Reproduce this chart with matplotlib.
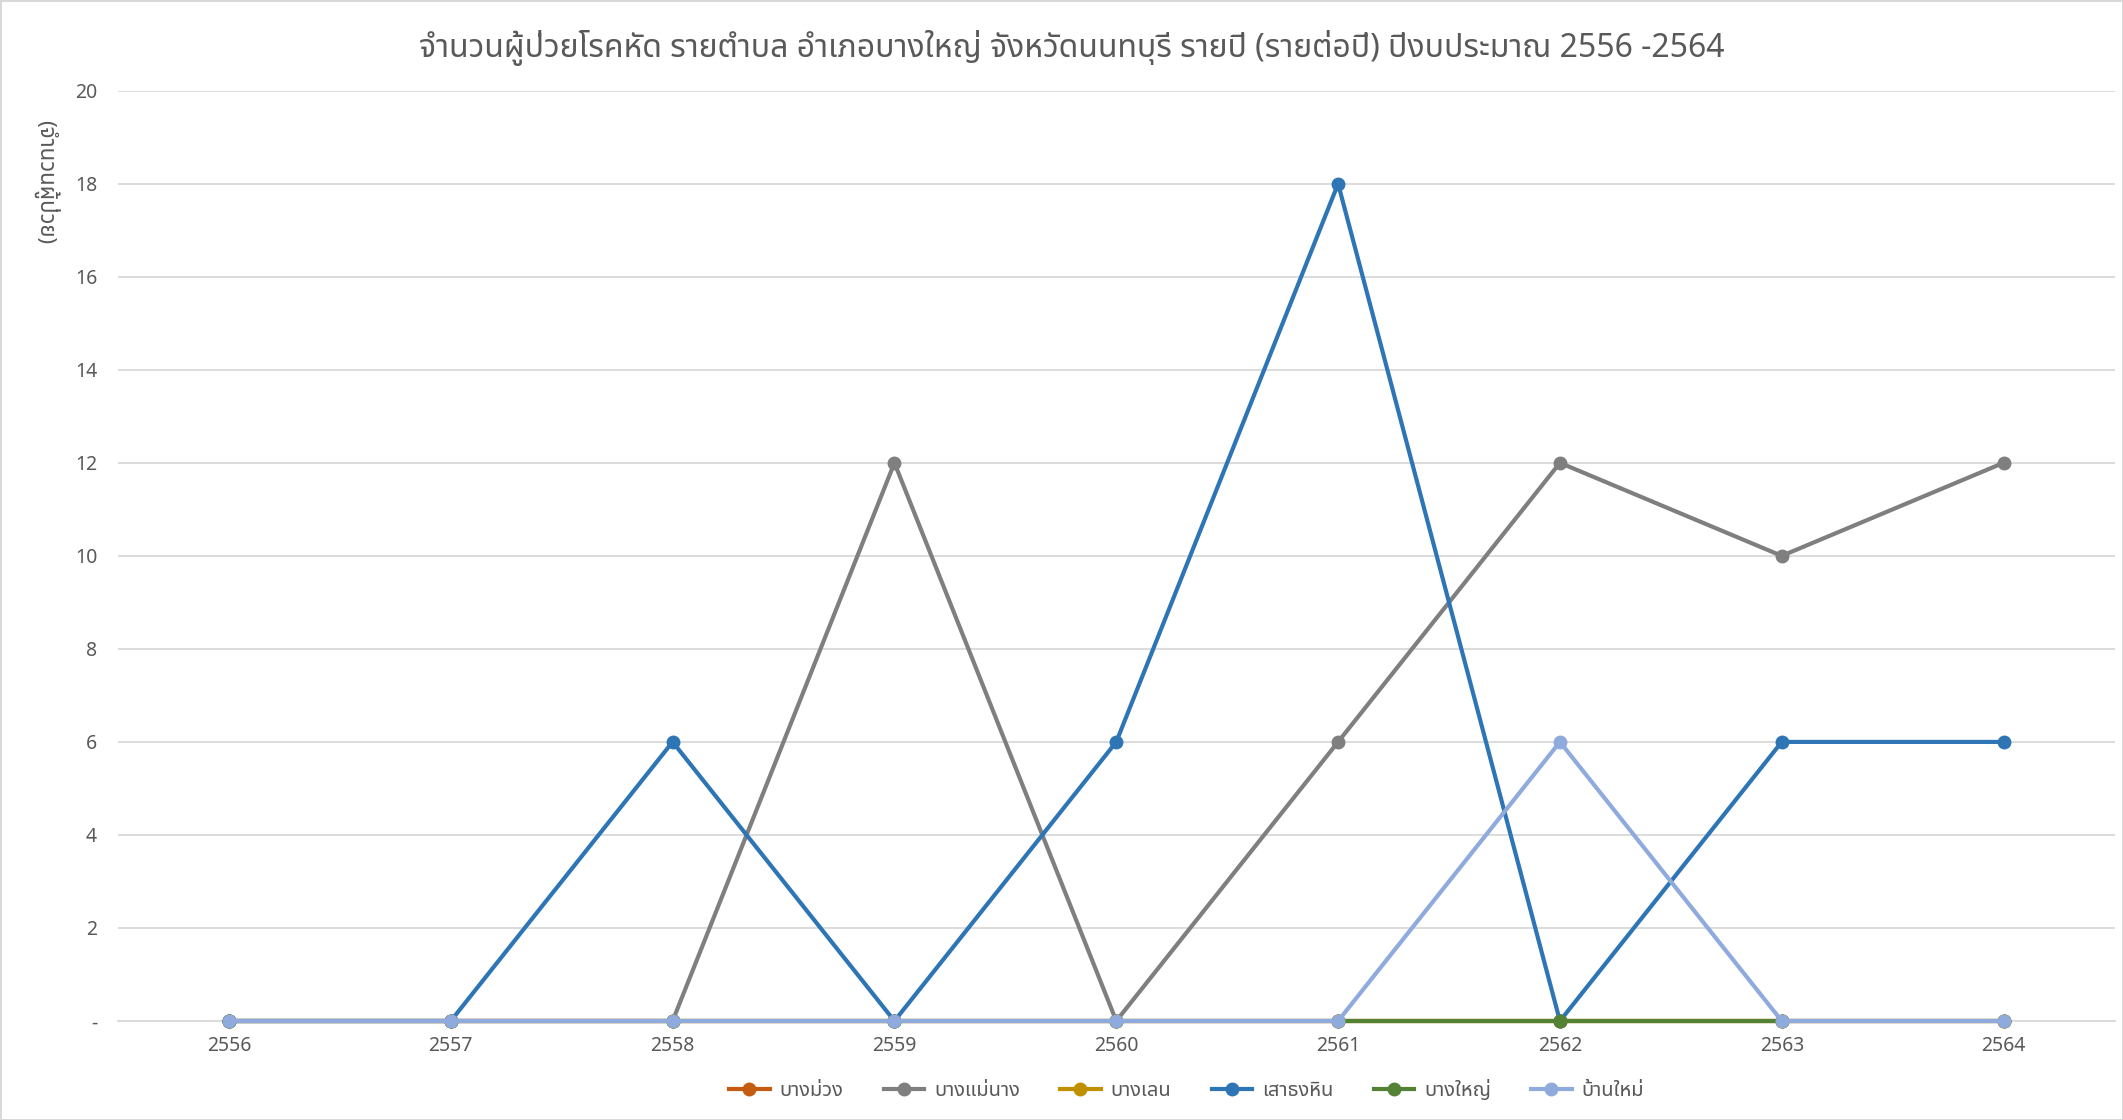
import matplotlib
matplotlib.use('Agg')
import matplotlib.pyplot as plt

plt.rcParams['font.family'] = ['Noto Sans Thai', 'DejaVu Sans']

# === Data ===
years = ['2556', '2557', '2558', '2559', '2560', '2561', '2562', '2563', '2564']
series_names = ['บางม่วง', 'บางแม่นาง', 'บางเลน', 'เสาธงหิน', 'บางใหญ่', 'บ้านใหม่']
bang_muang = [0, 0, 0, 0, 0, 0, 0, 0, 0]
bang_mae_nang = [0, 0, 0, 12, 0, 6, 12, 10, 12]
bang_len = [0, 0, 0, 0, 0, 0, 0, 0, 0]
sao_thong_hin = [0, 0, 6, 0, 6, 18, 0, 6, 6]
bang_yai = [0, 0, 0, 0, 0, 0, 0, 0, 0]
ban_mai = [0, 0, 0, 0, 0, 0, 6, 0, 0]
colors = ['#C55A11', '#7F7F7F', '#BF9000', '#2E75B6', '#548235', '#8FAADC']

y_ticks = [0, 2, 4, 6, 8, 10, 12, 14, 16, 18, 20]
y_labels = ['-'] + [str(v) for v in y_ticks[1:]]

title = 'จำนวนผู้ป่วยโรคหัด รายตำบล อำเภอบางใหญ่ จังหวัดนนทบุรี รายปี (รายต่อปี) ปีงบประมาณ 2556 -2564'
ylabel = '(จำนวนผู้ป่วย)'

# === Plotting ===
fig = plt.figure(figsize=(21.23, 11.2), dpi=100)
fig.patch.set_edgecolor('#D9D9D9')
fig.patch.set_linewidth(2)
ax = fig.add_axes([0.0556, 0.0884, 0.9404, 0.8306])

x = list(range(len(years)))
all_series = [bang_muang, bang_mae_nang, bang_len, sao_thong_hin, bang_yai, ban_mai]
for name, vals, c in zip(series_names, all_series, colors):
    ax.plot(x, vals, color=c, linewidth=3, marker='o', markersize=9,
            label=name, clip_on=False, zorder=3)

ax.set_xlim(-0.5, len(years) - 0.5)
ax.set_ylim(0, 20)
ax.set_xticks(x)
ax.set_xticklabels(years)
ax.set_yticks(y_ticks)
ax.set_yticklabels(y_labels)
ax.tick_params(axis='both', length=0, labelsize=14, labelcolor='#595959')
ax.tick_params(axis='y', pad=15)
ax.tick_params(axis='x', pad=11)

ax.grid(True, axis='y', color='#D9D9D9', linewidth=1.3)
ax.set_axisbelow(True)
for s in ['top', 'right', 'left']:
    ax.spines[s].set_visible(False)
ax.spines['bottom'].set_color('#D9D9D9')
ax.spines['bottom'].set_linewidth(1.3)

fig.text(0.505, 0.957, title, ha='center', va='center', fontsize=23, color='#595959')
fig.text(0.022, 0.837, ylabel, ha='center', va='center', rotation=270,
         fontsize=16, color='#595959')

fig.legend(loc='center', bbox_to_anchor=(0.559, 0.026), ncol=6, frameon=False,
           fontsize=14.5, labelcolor='#595959', handlelength=2.0, columnspacing=2.0,
           handletextpad=0.5)

fig.savefig('out.png')
